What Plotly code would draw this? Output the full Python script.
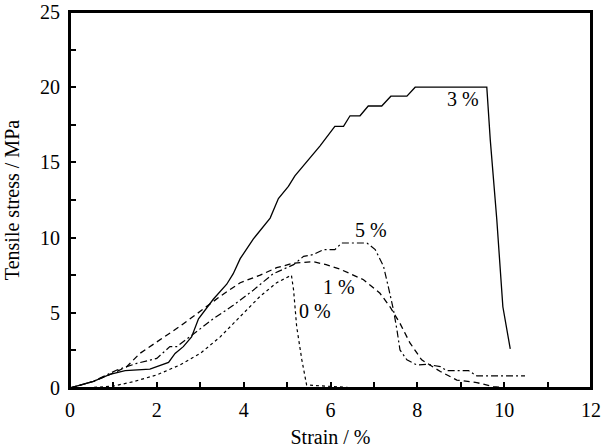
import plotly.graph_objects as go

# 3 % curve (solid)
x3 = [0, 0.54, 0.92, 1.27, 1.84, 2.27, 2.42, 2.61, 2.8, 2.96, 3.3, 3.61, 3.76, 3.92, 4.22, 4.61,
      4.8, 5.03, 5.18, 5.45, 5.76, 6.1, 6.3, 6.45, 6.68, 6.87, 7.18, 7.39, 7.76, 7.95, 9.6,
      9.68, 9.83, 9.97, 10.14]
y3 = [0, 0.44, 0.9, 1.15, 1.25, 1.7, 2.3, 2.75, 3.4, 4.6, 5.9, 6.9, 7.6, 8.6, 9.9, 11.3,
      12.6, 13.4, 14.1, 15.0, 16.1, 17.4, 17.4, 18.1, 18.1, 18.75, 18.75, 19.4, 19.4, 20.0, 20.0,
      16.5, 11.2, 5.4, 2.6]

# 1 % curve (dashed)
x1 = [0, 0.54, 1.0, 1.3, 1.61, 2.07, 2.53, 3.0, 3.46, 3.92, 4.38, 4.76, 5.15, 5.6, 5.9, 6.22,
      6.76, 7.14, 7.37, 7.6, 7.83, 8.1, 8.53, 8.91, 9.37, 9.75, 9.9]
y1 = [0, 0.44, 1.0, 1.4, 2.3, 3.2, 4.1, 5.1, 6.1, 7.0, 7.5, 8.0, 8.3, 8.4, 8.2, 7.9,
      7.2, 6.3, 5.4, 4.3, 3.0, 1.87, 1.1, 0.53, 0.36, 0.09, 0.05]

# 5 % curve (dash-dot)
x5 = [0, 0.54, 1.08, 1.54, 2.0, 2.3, 2.46, 2.84, 3.3, 3.76, 4.22, 4.68, 5.15, 5.38, 5.6, 5.84,
      6.1, 6.26, 6.84, 7.03, 7.22, 7.33, 7.45, 7.53, 7.6, 7.76, 7.99, 8.22, 8.53, 8.68, 9.18,
      9.37, 10.48]
y5 = [0, 0.44, 1.2, 1.64, 1.97, 2.75, 2.75, 3.6, 4.6, 5.5, 6.5, 7.6, 8.2, 8.75, 8.87, 9.2,
      9.2, 9.64, 9.64, 9.2, 8.1, 6.75, 5.2, 3.87, 2.53, 1.87, 1.53, 1.58, 1.42, 1.16, 1.16,
      0.8, 0.8]

# 0 % curve (dotted)
x0 = [0, 0.5, 1.0, 1.46, 2.0, 2.53, 3.0, 3.46, 3.92, 4.38, 4.76, 5.03, 5.1, 5.15, 5.22, 5.34,
      5.45, 6.5, 8.0, 10.0]
y0 = [0, 0.03, 0.13, 0.42, 0.87, 1.53, 2.3, 3.4, 4.75, 6.1, 7.0, 7.4, 7.5, 6.5, 4.1, 1.87,
      0.2, 0.02, 0.02, 0.02]

labels = ['3 %', '5 %', '1 %', '0 %']
label_x = [9.05, 6.93, 6.2, 5.65]
label_y = [19.2, 10.5, 6.7, 5.1]

x_range = [0, 12]
y_range = [0, 25]

# ticks every 1 % strain / 2.5 MPa, labels only on the major ones
xticks = list(range(0, 13))
xticktext = [str(v) if v % 2 == 0 else '' for v in xticks]
yticks = [0, 2.5, 5, 7.5, 10, 12.5, 15, 17.5, 20, 22.5, 25]
yticktext = [str(v) if v % 5 == 0 else '' for v in yticks]

font = 'Liberation Serif, Times New Roman, serif'

fig = go.Figure()
fig.add_trace(go.Scatter(x=x0, y=y0, mode='lines', line=dict(color='black', width=1.2, dash='dot')))
fig.add_trace(go.Scatter(x=x1, y=y1, mode='lines', line=dict(color='black', width=1.3, dash='6px,4px')))
fig.add_trace(go.Scatter(x=x5, y=y5, mode='lines', line=dict(color='black', width=1.2, dash='7px,3px,2px,3px')))
fig.add_trace(go.Scatter(x=x3, y=y3, mode='lines', line=dict(color='black', width=1.3)))

# box around the plot area, along the axis ranges (axis lines did not always show up)
fig.add_trace(go.Scatter(
    x=[x_range[0], x_range[1], x_range[1], x_range[0], x_range[0]],
    y=[y_range[0], y_range[0], y_range[1], y_range[1], y_range[0]],
    mode='lines', line=dict(color='black', width=2), cliponaxis=False, hoverinfo='skip'))

for t, lx, ly in zip(labels, label_x, label_y):
    fig.add_annotation(x=lx, y=ly, text=t, showarrow=False, font=dict(family=font, size=20, color='black'))

fig.update_xaxes(
    range=x_range, tickvals=xticks, ticktext=xticktext, automargin=False,
    showgrid=False, zeroline=False,
    showline=True, linecolor='black', linewidth=2, mirror=True,
    ticks='inside', ticklen=6, tickwidth=1.5, tickcolor='black',
    ticklabelstandoff=3, ticklabeloverflow='allow',
    tickfont=dict(family=font, size=20, color='black'),
    title=dict(text='Strain / %', font=dict(family=font, size=20, color='black')),
)
fig.update_yaxes(
    range=y_range, tickvals=yticks, ticktext=yticktext, automargin=False,
    showgrid=False, zeroline=False,
    showline=True, linecolor='black', linewidth=2, mirror=True,
    ticks='inside', ticklen=6, tickwidth=1.5, tickcolor='black',
    ticklabelstandoff=4, ticklabeloverflow='allow',
    tickfont=dict(family=font, size=20, color='black'),
    title=dict(text='Tensile stress / MPa', font=dict(family=font, size=20, color='black')),
)

fig.update_layout(
    width=605, height=448,
    margin=dict(l=70, r=14, t=12, b=60),
    paper_bgcolor='white', plot_bgcolor='white',
    showlegend=False,
)

# drop the default 8 px body margin so the figure fills the window
fig.write_html("out.html", config={'displayModeBar': False},
               post_script="document.body.style.margin='0';document.body.style.overflow='hidden';")
